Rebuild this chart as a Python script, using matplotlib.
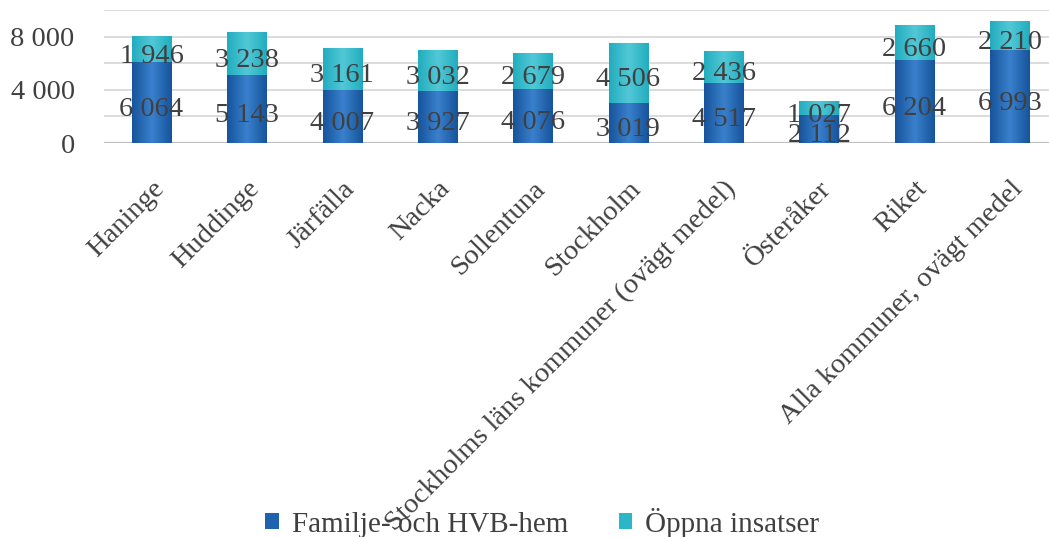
import matplotlib
matplotlib.use("Agg")
import numpy as np
import matplotlib.pyplot as plt
from matplotlib.patches import Patch
from matplotlib.colors import LinearSegmentedColormap

# data
kommuner = ["Haninge", "Huddinge", "Järfälla", "Nacka", "Sollentuna", "Stockholm",
            "Stockholms läns kommuner (ovägt medel)", "Österåker", "Riket",
            "Alla kommuner, ovägt medel"]
familje_hvb = [6064, 5143, 4007, 3927, 4076, 3019, 4517, 2112, 6204, 6993]
oppna = [1946, 3238, 3161, 3032, 2679, 4506, 2436, 1027, 2660, 2210]
yticks = [0, 4000, 8000]

def fmt(v):
    return f"{v:,}".replace(",", " ")

plt.rcParams['font.family'] = ['Liberation Serif', 'DejaVu Serif']
txt = '#404040'
blue = '#1e62b0'
teal = '#2bb7c7'
blue_cm = LinearSegmentedColormap.from_list('b', ['#17549c', '#3a80cc', '#17549c'])
teal_cm = LinearSegmentedColormap.from_list('t', ['#22adbf', '#52c8d6', '#22adbf'])
grad = np.linspace(0, 1, 64).reshape(1, -1)

fig = plt.figure(figsize=(10.49, 5.37), dpi=100)
ax = fig.add_axes([0.099, 0.7337, 0.909, 0.2477])

x = list(range(len(kommuner)))
w = 0.41
b1 = ax.bar(x, familje_hvb, w, color=blue, edgecolor='#8fe0ee', linewidth=0.8, zorder=3)
b2 = ax.bar(x, oppna, w, bottom=familje_hvb, color=teal, edgecolor='#8fe0ee',
            linewidth=0.8, zorder=3)

# gradient fill inside each bar
for bars, cm in [(b1, blue_cm), (b2, teal_cm)]:
    for r in bars:
        x0, y0 = r.get_x(), r.get_y()
        im = ax.imshow(grad, cmap=cm, aspect='auto', zorder=3.1,
                       extent=(x0, x0 + r.get_width(), y0, y0 + r.get_height()))
        im.set_clip_path(r)

for i in x:
    ax.annotate(fmt(familje_hvb[i]), (i, familje_hvb[i] / 2), xytext=(0, -5),
                textcoords='offset points', ha='center', va='center',
                fontsize=20.5, color=txt, zorder=4)
    ax.annotate(fmt(oppna[i]), (i, familje_hvb[i] + oppna[i] / 2), xytext=(0, -5),
                textcoords='offset points', ha='center', va='center',
                fontsize=20.5, color=txt, zorder=4)

ax.set_xlim(-0.5, len(kommuner) - 0.5)
ax.set_ylim(0, 10000)
ax.set_yticks(yticks)
ax.set_yticklabels([fmt(v) for v in yticks], fontsize=20.5, color=txt)
for g in range(2000, 10001, 2000):
    ax.axhline(g, color='#d9d9d9', linewidth=1.3, zorder=1)
ax.axhline(0, color='#bfbfbf', linewidth=2.3, zorder=2)

ax.set_xticks(x)
ax.set_xticklabels(kommuner, rotation=45, ha='right', va='top', fontsize=20.5,
                   color=txt, rotation_mode='anchor')
ax.tick_params(axis='both', length=0)
ax.tick_params(axis='x', pad=24)
ax.tick_params(axis='y', pad=21)
for s in ax.spines.values():
    s.set_visible(False)

handles = [Patch(facecolor=blue, label='Familje- och HVB-hem'),
           Patch(facecolor=teal, label='Öppna insatser')]
fig.legend(handles=handles, loc='center', bbox_to_anchor=(0.517, 0.027), ncol=2,
           frameon=False, fontsize=21, labelcolor=txt, handlelength=0.45,
           handleheight=0.5, handletextpad=0.45, columnspacing=1.75)

fig.savefig('out.png', dpi=100)
